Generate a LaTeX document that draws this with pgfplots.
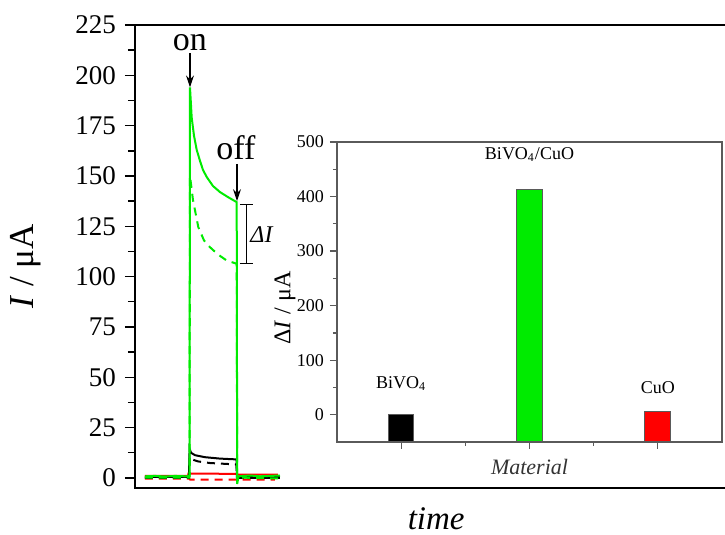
\documentclass[border=0pt]{standalone}
\usepackage{fontspec}
\setmainfont{Liberation Serif}
\usepackage{pgfplots}
\pgfplotsset{compat=1.18}
\usetikzlibrary{arrows.meta}
\definecolor{lgreen}{RGB}{0,235,0}
\definecolor{lred}{RGB}{255,0,0}
\definecolor{spgray}{RGB}{90,90,90}
\begin{document}
\begin{tikzpicture}
\useasboundingbox (0,0) rectangle (362.5pt,267.5pt);
\begin{axis}[
  scale only axis, width=300pt, height=231.5pt,
  at={(67.5pt,23.5pt)}, anchor=south west,
  xmin=135, xmax=735, ymin=-5, ymax=225,
  xtick=\empty, ytick={0,25,...,225}, minor y tick num=1,
  ytick pos=left, tick align=outside,
  major tick length=5pt, minor tick length=3.5pt,
  tick style={black, line width=0.7pt},
  axis line style={line width=0.9pt},
  /pgf/number format/assume math mode=true,
  yticklabel style={font=\fontsize{13.5}{14}\selectfont, xshift=-1pt},
  ylabel={\textit{I} / μA},
  ylabel style={at={(axis description cs:-0.182,0.479)}, anchor=center, font=\fontsize{17.5}{20}\selectfont},
  xlabel={\textit{time}},
  xlabel style={at={(axis description cs:0.502,-0.09)}, anchor=base, font=\fontsize{16.5}{18}\selectfont},
  clip=false,
]
\addplot[lred, line width=1pt] coordinates {(145,1.0) (188,1.0) (188.5,2.2) (237,2.0) (238,1.6) (278,1.6)};
\addplot[lred, line width=1pt, dash pattern=on 4pt off 3pt] coordinates {(145,-0.3) (189,-0.3) (190,-0.8) (275,-0.8)};
\addplot[black, line width=1pt] coordinates {(145,0.5) (189,0.5) (189.6,14.5) (191,12.5) (195,11.3) (205,10.3) (220,9.6) (236.5,9.2) (237,0.4) (280,0.4)};
\addplot[black, line width=1pt, dash pattern=on 4pt off 3pt] coordinates {(145,0) (189,0) (189.8,10.5) (192,9.2) (198,8.2) (210,7.4) (225,7.0) (236.5,6.7) (237,0) (280,0)};
\addplot[lgreen, line width=1pt, dash pattern=on 4pt off 3pt] coordinates {(145,0.2) (189.5,0.2) (190,150) (193,138) (198.3,124.6) (204,118) (210,114.6) (218,111) (226.7,108) (236.7,106.4) (237.2,0.2) (280,-0.3)};
\addplot[lgreen, line width=1pt] coordinates {(145,0.8) (155,1.0) (165,0.7) (175,1.0) (185,0.8) (189.5,0.9) (190,194) (191.7,179) (194,170) (196.7,163) (200,157.5) (203,153) (206.7,149.5) (213,145) (220,142) (228,139.5) (236.7,137) (237.2,-3) (238.5,0.8) (250,1.2) (260,0.8) (270,1.0) (280,1.2)};
\draw[line width=0.6pt, -{Stealth[length=6pt,width=4pt]}] (axis cs:190,211) -- (axis cs:190,194);
\node[anchor=base, font=\fontsize{17}{18}\selectfont, inner sep=0pt] at (axis cs:190,212.5) {on};
\draw[line width=0.6pt, -{Stealth[length=6pt,width=4pt]}] (axis cs:237,156) -- (axis cs:237,137.5);
\node[anchor=base, font=\fontsize{17}{18}\selectfont, inner sep=0pt] at (axis cs:236,158) {off};
\draw[line width=0.6pt] (axis cs:246.7,136) -- (axis cs:246.7,106.4);
\draw[line width=0.6pt] (axis cs:240,136) -- (axis cs:253,136);
\draw[line width=0.6pt] (axis cs:240,106.4) -- (axis cs:253,106.4);
\node[font=\fontsize{12}{14}\selectfont, inner sep=0pt] at (axis cs:262,121) {\textit{ΔI}};
\end{axis}
\begin{axis}[
  scale only axis, width=192.5pt, height=150pt,
  at={(168.5pt,46.5pt)}, anchor=south west,
  xmin=-0.5, xmax=2.5, ymin=-50, ymax=500,
  xtick={0,1,2}, xticklabels={}, minor xtick={0.5,1.5},
  ytick={0,100,...,500}, minor y tick num=1,
  xtick pos=bottom, ytick pos=left, tick align=outside,
  major tick length=3.5pt, minor tick length=2pt,
  tick style={spgray, line width=0.6pt},
  axis line style={spgray, line width=0.8pt},
  /pgf/number format/assume math mode=true,
  yticklabel style={font=\fontsize{9}{10}\selectfont, xshift=0.5pt},
  ylabel={Δ\textit{I} / μA},
  ylabel style={at={(axis description cs:-0.135,0.447)}, anchor=center, font=\fontsize{12}{14}\selectfont},
  xlabel={\textit{Material}},
  xlabel style={at={(axis description cs:0.5,-0.11)}, anchor=base, font=\fontsize{11}{13}\selectfont, text=black!80},
  clip=false,
]
% bars (value at centre 0,1,2; bars drawn from the bottom of the axis)
\addplot[fill=black, draw=spgray, line width=0.5pt] coordinates {(-0.1,-50) (-0.1,1) (0.1,1) (0.1,-50)} -- cycle;
\addplot[fill=lgreen, draw=spgray, line width=0.5pt] coordinates {(0.9,-50) (0.9,413) (1.1,413) (1.1,-50)} -- cycle;
\addplot[fill=lred, draw=spgray, line width=0.5pt] coordinates {(1.9,-50) (1.9,5) (2.1,5) (2.1,-50)} -- cycle;
\node[anchor=base, font=\fontsize{9}{10}\selectfont, inner sep=0pt] at (axis cs:0,47.7) {BiVO\textsubscript{4}};
\node[anchor=base, font=\fontsize{9}{10}\selectfont, inner sep=0pt] at (axis cs:1,468) {BiVO\textsubscript{4}/CuO};
\node[anchor=base, font=\fontsize{9}{10}\selectfont, inner sep=0pt] at (axis cs:2,39) {CuO};
\end{axis}
\end{tikzpicture}
\end{document}
